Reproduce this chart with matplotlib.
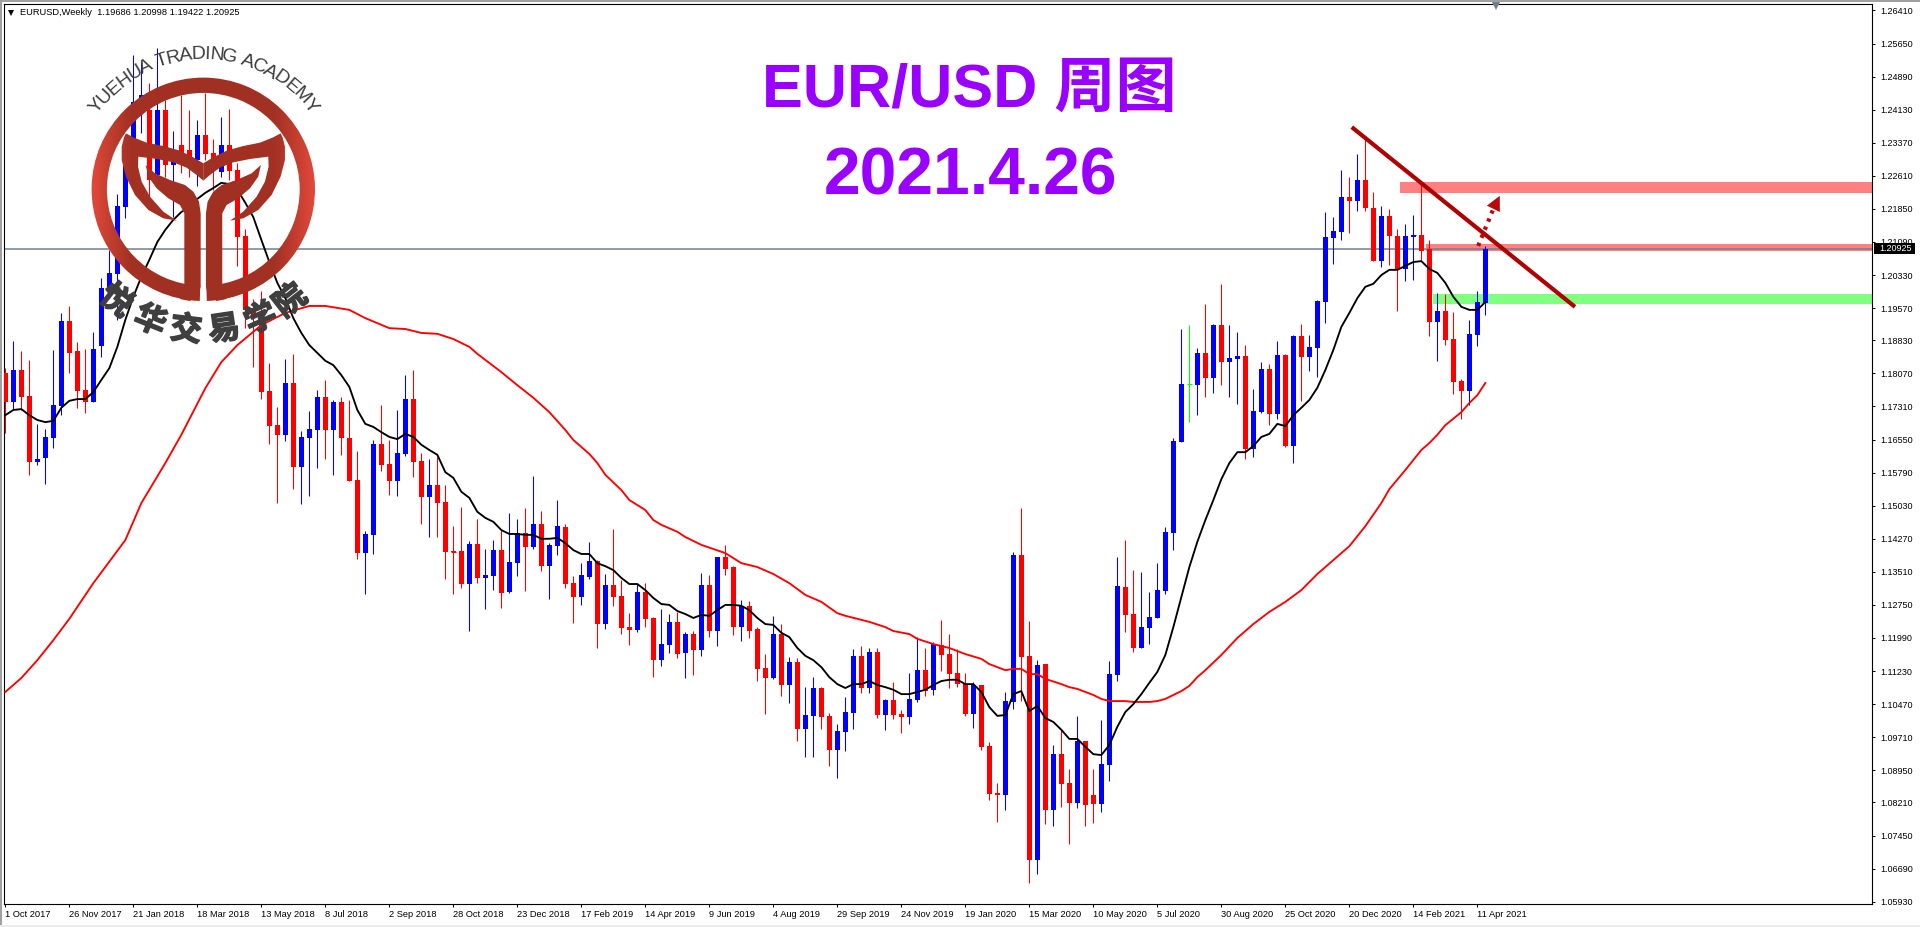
import numpy as np
import matplotlib
matplotlib.use('Agg')
import matplotlib.pyplot as plt
import matplotlib.patheffects as pe
from matplotlib.colors import LinearSegmentedColormap
from matplotlib.patches import Polygon, Rectangle, Wedge

plt.rcParams['font.family'] = ['Liberation Sans', 'Noto Sans CJK SC', 'DejaVu Sans']

opens = [1.1808, 1.1741, 1.1815, 1.1755, 1.1603, 1.1613, 1.1659, 1.1732, 1.1927, 1.1858,
         1.1769, 1.1741, 1.1870, 1.1996, 1.2035, 1.2189, 1.2286, 1.2412, 1.2412, 1.2263,
         1.2412, 1.2286, 1.2332, 1.2320, 1.2297, 1.2355, 1.2314, 1.2270, 1.2332, 1.2274,
         1.2123, 1.1953, 1.1941, 1.1767, 1.1688, 1.1666, 1.1785, 1.1592, 1.1659, 1.1677,
         1.1753, 1.1677, 1.1741, 1.1659, 1.1562, 1.1394, 1.1436, 1.1645, 1.1599, 1.1560,
         1.1622, 1.1748, 1.1606, 1.1523, 1.1551, 1.1512, 1.1399, 1.1399, 1.1323, 1.1415,
         1.1337, 1.1342, 1.1401, 1.1305, 1.1371, 1.1440, 1.1408, 1.1461, 1.1364, 1.1410,
         1.1454, 1.1325, 1.1293, 1.1339, 1.1376, 1.1231, 1.1321, 1.1296, 1.1224, 1.1217,
         1.1305, 1.1245, 1.1148, 1.1183, 1.1236, 1.1165, 1.1208, 1.1171, 1.1321, 1.1215,
         1.1385, 1.1362, 1.1224, 1.1273, 1.1220, 1.1130, 1.1107, 1.1208, 1.1091, 1.1144,
         1.0990, 1.1020, 1.1084, 1.1020, 1.0942, 1.0983, 1.1027, 1.1158, 1.1084, 1.1167,
         1.1022, 1.1057, 1.1024, 1.1017, 1.1057, 1.1125, 1.1080, 1.1183, 1.1162, 1.1119,
         1.1093, 1.1024, 1.1091, 1.0951, 1.0843, 1.0838, 1.1052, 1.1390, 1.1158, 1.0689,
         1.1139, 1.0804, 1.0932, 1.0866, 1.0820, 1.0962, 1.0838, 1.0818, 1.0907, 1.1114,
         1.1316, 1.1254, 1.1176, 1.1222, 1.1245, 1.1307, 1.1440, 1.1649, 1.1783, 1.1780,
         1.1854, 1.1797, 1.1918, 1.1833, 1.1840, 1.1847, 1.1633, 1.1718, 1.1817, 1.1714,
         1.1849, 1.1640, 1.1893, 1.1845, 1.1865, 1.1971, 1.2118, 1.2132, 1.2212, 1.2203,
         1.2252, 1.2187, 1.2065, 1.2169, 1.2123, 1.2047, 1.2121, 1.2125, 1.2093, 1.1925,
         1.1950, 1.1886, 1.1790, 1.1767, 1.1895, 1.19686]
highs = [1.1819, 1.1882, 1.1858, 1.1838, 1.1691, 1.1679, 1.1861, 1.1946, 1.1962, 1.1879,
         1.1863, 1.1902, 1.2026, 1.2091, 1.2219, 1.2309, 1.2539, 1.2523, 1.2474, 1.2555,
         1.2435, 1.2364, 1.2447, 1.2412, 1.2389, 1.2451, 1.2346, 1.2396, 1.2415, 1.2291,
         1.2139, 1.1978, 1.1996, 1.1831, 1.1730, 1.1840, 1.1852, 1.1675, 1.1721, 1.1769,
         1.1792, 1.1746, 1.1753, 1.1746, 1.1629, 1.1445, 1.1654, 1.1734, 1.1654, 1.1723,
         1.1803, 1.1815, 1.1624, 1.1610, 1.1615, 1.1551, 1.1456, 1.1500, 1.1422, 1.1472,
         1.1404, 1.1424, 1.1447, 1.1486, 1.1472, 1.1498, 1.1571, 1.1491, 1.1417, 1.1516,
         1.1461, 1.1342, 1.1371, 1.1420, 1.1378, 1.1346, 1.1450, 1.1332, 1.1256, 1.1323,
         1.1325, 1.1247, 1.1266, 1.1254, 1.1259, 1.1213, 1.1215, 1.1348, 1.1344, 1.1385,
         1.1413, 1.1364, 1.1286, 1.1284, 1.1224, 1.1162, 1.1250, 1.1231, 1.1155, 1.1153,
         1.1086, 1.1109, 1.1086, 1.1027, 1.1001, 1.1063, 1.1174, 1.1181, 1.1176, 1.1176,
         1.1059, 1.1098, 1.1034, 1.1119, 1.1201, 1.1176, 1.1190, 1.1240, 1.1208, 1.1174,
         1.1119, 1.1098, 1.1091, 1.0960, 1.0866, 1.1075, 1.1397, 1.1498, 1.1238, 1.1148,
         1.1139, 1.0953, 1.0988, 1.0898, 1.1020, 1.0962, 1.0898, 1.1011, 1.1146, 1.1385,
         1.1424, 1.1355, 1.1351, 1.1305, 1.1371, 1.1454, 1.1659, 1.1909, 1.1918, 1.1865,
         1.1967, 1.1921, 1.2013, 1.1918, 1.1902, 1.1872, 1.1771, 1.1833, 1.1829, 1.1882,
         1.1852, 1.1895, 1.1921, 1.1895, 1.1976, 1.2178, 1.2166, 1.2274, 1.2258, 1.2311,
         1.2348, 1.2224, 1.2192, 1.2185, 1.2139, 1.2150, 1.2171, 1.2245, 1.2114, 1.1992,
         1.1990, 1.1948, 1.1794, 1.1930, 1.1996, 1.20998]
lows = [1.1670, 1.1723, 1.1723, 1.1574, 1.1597, 1.1553, 1.1636, 1.1711, 1.1808, 1.1728,
        1.1716, 1.1741, 1.1845, 1.1992, 1.1930, 1.2164, 1.2263, 1.2360, 1.2205, 1.2258,
        1.2258, 1.2166, 1.2268, 1.2258, 1.2238, 1.2297, 1.2229, 1.2258, 1.2252, 1.2054,
        1.1911, 1.1822, 1.1748, 1.1645, 1.1509, 1.1652, 1.1541, 1.1507, 1.1525, 1.1590,
        1.1610, 1.1574, 1.1620, 1.1560, 1.1381, 1.1300, 1.1392, 1.1583, 1.1528, 1.1525,
        1.1617, 1.1569, 1.1461, 1.1431, 1.1431, 1.1335, 1.1300, 1.1314, 1.1215, 1.1325,
        1.1266, 1.1309, 1.1268, 1.1302, 1.1342, 1.1307, 1.1404, 1.1353, 1.1289, 1.1390,
        1.1314, 1.1233, 1.1275, 1.1335, 1.1176, 1.1220, 1.1273, 1.1208, 1.1183, 1.1213,
        1.1224, 1.1109, 1.1135, 1.1165, 1.1153, 1.1107, 1.1114, 1.1158, 1.1201, 1.1181,
        1.1344, 1.1206, 1.1192, 1.1199, 1.1100, 1.1024, 1.1105, 1.1066, 1.1050, 1.0962,
        1.0926, 1.0926, 1.0990, 1.0905, 1.0877, 1.0939, 1.0990, 1.1073, 1.1073, 1.1015,
        1.0988, 1.1013, 1.0981, 1.1001, 1.1052, 1.1066, 1.1068, 1.1123, 1.1084, 1.1086,
        1.1020, 1.0992, 1.0942, 1.0827, 1.0776, 1.0804, 1.1036, 1.1054, 1.0636, 1.0657,
        1.0772, 1.0767, 1.0811, 1.0726, 1.0808, 1.0767, 1.0774, 1.0799, 1.0870, 1.1100,
        1.1213, 1.1167, 1.1176, 1.1185, 1.1245, 1.1300, 1.1401, 1.1649, 1.1695, 1.1711,
        1.1753, 1.1762, 1.1780, 1.1753, 1.1737, 1.1610, 1.1615, 1.1716, 1.1688, 1.1702,
        1.1638, 1.1601, 1.1744, 1.1813, 1.1799, 1.1923, 1.2058, 1.2114, 1.2130, 1.2180,
        1.2180, 1.2065, 1.2052, 1.2056, 1.1950, 1.2019, 1.2022, 1.2068, 1.1893, 1.1836,
        1.1872, 1.1760, 1.1702, 1.1734, 1.1870, 1.19422]
closes = [1.1741, 1.1815, 1.1753, 1.1603, 1.1610, 1.1661, 1.1734, 1.1927, 1.1854, 1.1767,
          1.1741, 1.1863, 1.2003, 1.2038, 1.2192, 1.2284, 1.2431, 1.2447, 1.2252, 1.2412,
          1.2286, 1.2297, 1.2297, 1.2297, 1.2355, 1.2311, 1.2286, 1.2332, 1.2272, 1.2121,
          1.1953, 1.1934, 1.1764, 1.1686, 1.1666, 1.1785, 1.1592, 1.1661, 1.1679, 1.1753,
          1.1677, 1.1741, 1.1659, 1.1560, 1.1394, 1.1438, 1.1645, 1.1597, 1.1560, 1.1624,
          1.1748, 1.1603, 1.1523, 1.1551, 1.1509, 1.1397, 1.1397, 1.1323, 1.1415, 1.1337,
          1.1344, 1.1401, 1.1302, 1.1374, 1.1440, 1.1408, 1.1461, 1.1364, 1.1413, 1.1456,
          1.1323, 1.1293, 1.1344, 1.1376, 1.1231, 1.1321, 1.1293, 1.1222, 1.1217, 1.1305,
          1.1243, 1.1148, 1.1185, 1.1236, 1.1162, 1.1208, 1.1171, 1.1321, 1.1215, 1.1385,
          1.1358, 1.1224, 1.1273, 1.1215, 1.1128, 1.1107, 1.1208, 1.1091, 1.1144, 1.0990,
          1.1022, 1.1084, 1.1017, 1.0942, 1.0985, 1.1029, 1.1158, 1.1084, 1.1167, 1.1022,
          1.1057, 1.1022, 1.1017, 1.1059, 1.1125, 1.1077, 1.1185, 1.1160, 1.1116, 1.1093,
          1.1024, 1.1091, 1.0949, 1.0841, 1.0838, 1.1054, 1.1390, 1.1155, 1.0689, 1.1137,
          1.0804, 1.0932, 1.0864, 1.0820, 1.0962, 1.0815, 1.0818, 1.0909, 1.1116, 1.1319,
          1.1252, 1.1176, 1.1224, 1.1247, 1.1309, 1.1443, 1.1652, 1.1783, 1.1783, 1.1854,
          1.1797, 1.1918, 1.1833, 1.1842, 1.1847, 1.1633, 1.1721, 1.1817, 1.1714, 1.1849,
          1.1640, 1.1893, 1.1845, 1.1868, 1.1973, 1.2121, 1.2134, 1.2212, 1.2203, 1.2252,
          1.2187, 1.2065, 1.2169, 1.2123, 1.2047, 1.2123, 1.2125, 1.2088, 1.1925, 1.1950,
          1.1884, 1.1787, 1.1767, 1.1898, 1.1971, 1.20925]

# short moving average, one value per week
ma_short = [1.1711, 1.1723, 1.1725, 1.1711, 1.1700, 1.1695, 1.1698, 1.1728, 1.1744, 1.1748,
            1.1748, 1.1764, 1.1792, 1.1819, 1.1868, 1.1930, 1.1983, 1.2029, 1.2068, 1.2109,
            1.2137, 1.2160, 1.2178, 1.2189, 1.2208, 1.2222, 1.2233, 1.2245, 1.2242, 1.2229,
            1.2199, 1.2166, 1.2114, 1.2063, 1.2015, 1.1980, 1.1934, 1.1900, 1.1872, 1.1854,
            1.1836, 1.1826, 1.1803, 1.1776, 1.1723, 1.1691, 1.1684, 1.1672, 1.1661, 1.1656,
            1.1668, 1.1661, 1.1643, 1.1631, 1.1620, 1.1580, 1.1567, 1.1535, 1.1521, 1.1489,
            1.1475, 1.1466, 1.1447, 1.1438, 1.1438, 1.1436, 1.1436, 1.1427, 1.1427, 1.1429,
            1.1417, 1.1401, 1.1392, 1.1392, 1.1371, 1.1364, 1.1355, 1.1337, 1.1323, 1.1323,
            1.1309, 1.1291, 1.1277, 1.1275, 1.1261, 1.1254, 1.1245, 1.1252, 1.1250, 1.1263,
            1.1275, 1.1275, 1.1273, 1.1263, 1.1245, 1.1231, 1.1229, 1.1211, 1.1201, 1.1176,
            1.1158, 1.1148, 1.1132, 1.1109, 1.1093, 1.1084, 1.1093, 1.1093, 1.1100, 1.1091,
            1.1086, 1.1080, 1.1070, 1.1070, 1.1075, 1.1080, 1.1091, 1.1100, 1.1103, 1.1103,
            1.1093, 1.1093, 1.1075, 1.1040, 1.1020, 1.1022, 1.1070, 1.1077, 1.1031, 1.1043,
            1.1015, 1.1006, 1.0988, 1.0967, 1.0967, 1.0949, 1.0932, 1.0930, 1.0953, 1.0995,
            1.1029, 1.1047, 1.1070, 1.1096, 1.1121, 1.1160, 1.1224, 1.1293, 1.1362, 1.1420,
            1.1470, 1.1516, 1.1564, 1.1601, 1.1626, 1.1626, 1.1640, 1.1661, 1.1668, 1.1691,
            1.1686, 1.1711, 1.1728, 1.1746, 1.1774, 1.1815, 1.1861, 1.1914, 1.1946, 1.1980,
            1.2006, 1.2013, 1.2033, 1.2045, 1.2045, 1.2054, 1.2063, 1.2065, 1.2047, 1.2038,
            1.2015, 1.1983, 1.1960, 1.1953, 1.1953, 1.1971]

# long moving average, read at the weeks listed in ma_long_weeks
ma_long_weeks = [0, 2, 4, 6, 8, 11, 15, 17, 20, 22, 25, 27, 29, 32, 35, 38, 40, 43, 45, 48, 50, 52,
                 54, 56, 58, 59, 60, 62, 64, 66, 68, 70, 71, 73, 74, 75, 77, 78, 80, 81, 82, 84,
                 85, 87, 90, 92, 94, 96, 98, 100, 102, 104, 105, 108, 110, 111, 113, 114, 116,
                 118, 120, 122, 123, 124, 125, 126, 127, 128, 129, 130, 132, 133, 134, 135, 136,
                 137, 138, 140, 141, 143, 144, 145, 146, 147, 148, 149, 150, 152, 154, 156, 158,
                 160, 162, 164, 166, 168, 170, 172, 173, 175, 177, 178, 179, 180, 182, 183, 184, 185]
ma_long = [1.1075, 1.1107, 1.1148, 1.1194, 1.1243, 1.1325, 1.1424, 1.1509, 1.1601, 1.1666, 1.1773,
           1.1833, 1.1872, 1.1918, 1.1946, 1.1962, 1.1962, 1.1953, 1.1934, 1.1911, 1.1909, 1.1900,
           1.1898, 1.1886, 1.1868, 1.1852, 1.1838, 1.1810, 1.1780, 1.1751, 1.1718, 1.1677, 1.1654,
           1.1622, 1.1601, 1.1574, 1.1539, 1.1516, 1.1493, 1.1470, 1.1459, 1.1443, 1.1431, 1.1413,
           1.1394, 1.1371, 1.1362, 1.1346, 1.1325, 1.1298, 1.1282, 1.1256, 1.1250, 1.1236, 1.1224,
           1.1215, 1.1208, 1.1197, 1.1185, 1.1176, 1.1162, 1.1151, 1.1139, 1.1132, 1.1125, 1.1128,
           1.1128, 1.1116, 1.1116, 1.1105, 1.1093, 1.1086, 1.1082, 1.1075, 1.1068, 1.1059, 1.1054,
           1.1054, 1.1052, 1.1052, 1.1054, 1.1059, 1.1068, 1.1077, 1.1089, 1.1109, 1.1125, 1.1160,
           1.1199, 1.1231, 1.1259, 1.1282, 1.1309, 1.1346, 1.1378, 1.1410, 1.1456, 1.1509, 1.1541,
           1.1585, 1.1631, 1.1647, 1.1666, 1.1688, 1.1718, 1.1739, 1.1757, 1.1785]

price_labels = ['1.26410', '1.25650', '1.24890', '1.24130', '1.23370', '1.22610', '1.21850',
                '1.21090', '1.20330', '1.19570', '1.18830', '1.18070', '1.17310', '1.16550',
                '1.15790', '1.15030', '1.14270', '1.13510', '1.12750', '1.11990', '1.11230',
                '1.10470', '1.09710', '1.08950', '1.08210', '1.07450', '1.06690', '1.05930']
date_labels = ['1 Oct 2017', '26 Nov 2017', '21 Jan 2018', '18 Mar 2018', '13 May 2018', '8 Jul 2018',
               '2 Sep 2018', '28 Oct 2018', '23 Dec 2018', '17 Feb 2019', '14 Apr 2019', '9 Jun 2019',
               '4 Aug 2019', '29 Sep 2019', '24 Nov 2019', '19 Jan 2020', '15 Mar 2020', '10 May 2020',
               '5 Jul 2020', '30 Aug 2020', '25 Oct 2020', '20 Dec 2020', '14 Feb 2021', '11 Apr 2021']

last_price = 1.20925
# resistance and support bands: first week, lower price, upper price
band_weeks = [174.3, 177.6, 178.5]
band_lows = [1.2222, 1.2088, 1.1966]
band_highs = [1.2247, 1.2104, 1.1989]
band_colors = ['#ff8080', '#ff8080', '#80ff80']
trend_weeks = [168.3, 196.2]
trend_prices = [1.2373, 1.1960]
arrow_weeks = [184.1, 186.0, 186.8]
arrow_prices = [1.2100, 1.2185, 1.2215]

W, H = 1920, 927
fig = plt.figure(figsize=(W / 100, H / 100), dpi=100, facecolor='white')
ax = fig.add_axes([4 / W, (H - 904) / H, 1868 / W, 900 / H])

weeks = np.arange(len(opens))
o = np.array(opens)
h = np.array(highs)
l = np.array(lows)
c = np.array(closes)
colors = np.where(c > o, '#0000ff', np.where(c < o, '#ff0000', '#00ff00'))

xmax = 233.33
for start, lo, hi, col in zip(band_weeks, band_lows, band_highs, band_colors):
    ax.fill_between([start, xmax], lo, hi, color=col, lw=0, zorder=1)

ax.axhline(last_price, color='#708090', lw=1.1, zorder=1.5)
ax.vlines(weeks, l, h, colors=colors, lw=0.75, zorder=2)
ax.bar(weeks, np.abs(c - o), bottom=np.minimum(o, c), width=0.625, color=colors, lw=0, zorder=3)
thin = np.abs(c - o) < 0.0004
ax.hlines(c[thin], weeks[thin] - 0.31, weeks[thin] + 0.31, colors=colors[thin], lw=0.75, zorder=3)

ax.plot(ma_long_weeks, ma_long, color='#ff0000', lw=1.35, zorder=4)
ax.plot(weeks, ma_short, color='black', lw=1.35, zorder=4)

# trend line and the dotted arrow
ax.plot(trend_weeks, trend_prices, color='#b00000', lw=3, solid_capstyle='butt', zorder=5)
ax.plot(arrow_weeks[:2], arrow_prices[:2], color='#b80808', lw=3, ls=(0, (0.8, 1.3)), zorder=5)
ax.annotate('', xy=(arrow_weeks[2], arrow_prices[2]), xytext=(arrow_weeks[1], arrow_prices[1]),
            arrowprops=dict(arrowstyle='-|>', mutation_scale=26, color='#b80808', lw=0,
                            shrinkA=0, shrinkB=0), zorder=5)

ax.set_xlim(-0.166, xmax)
ax.set_ylim(1.05877, 1.26559)
ax.yaxis.tick_right()
ax.set_yticks([float(s) for s in price_labels])
ax.set_yticklabels(price_labels, fontsize=6.5)
ax.set_xticks(np.arange(len(date_labels)) * 8)
ax.set_xticklabels(date_labels, fontsize=6.7, ha='left')
ax.tick_params(axis='y', length=2.2, width=0.7, pad=3.5)
ax.tick_params(axis='x', length=2.2, width=0.7, pad=2)
for s in ax.spines.values():
    s.set_linewidth(0.8)

# overlay in pixel units for the window frame, titles and the logo
ov = fig.add_axes([0, 0, 1, 1], facecolor='none', zorder=5)
ov.axis('off')

ov.add_patch(Rectangle((0, 0), W, 1.5, color='#a0a0a0', lw=0))
ov.add_patch(Rectangle((0, 0), 2, H, color='#a0a0a0', lw=0))
ov.add_patch(Rectangle((0, 924.5), W, 3, color='#ececec', lw=0))

ov.plot([10.5], [12.8], marker='v', ms=5, color='black', mew=0)
ov.text(20, 12.5, 'EURUSD,Weekly  1.19686 1.20998 1.19422 1.20925', fontsize=6.7, va='center', ha='left')
ov.plot([1496], [5.5], marker='v', ms=6, color='#708090', mew=0)

ov.add_patch(Rectangle((1874, 243), 41, 11, color='black', lw=0, zorder=6))
ov.text(1879, 248.5, f'{last_price:.5f}', color='white', fontsize=6.5, va='center', ha='left', zorder=7)

ov.text(969, 91, 'EUR/USD 周图', color='#9900ff', fontsize=44, fontweight='bold', ha='center', va='center')
ov.text(970, 177, '2021.4.26', color='#9900ff', fontsize=47.5, fontweight='bold', ha='center', va='center')

# logo: ring, two wings and two stems, outlined in zoomed pixels
cx, cy = 203.3, 189.3
left_wing = [(378, 400), (400, 412), (440, 428), (490, 438), (540, 452), (580, 472), (610, 490), (610, 542),
             (590, 525), (560, 503), (520, 487), (470, 477), (415, 470), (414, 500), (425, 545), (450, 590),
             (490, 635), (530, 662), (490, 655), (445, 630), (405, 585), (378, 530), (365, 480), (365, 440),
             (372, 412)]
left_stem = [(437, 495), (465, 520), (510, 540), (555, 555), (580, 575), (597, 605), (602, 640), (602, 860),
             (595, 885), (570, 903), (540, 897), (553, 855), (553, 640), (540, 615), (505, 595), (470, 565),
             (445, 530)]
pieces = [Wedge((cx, cy), 111.7, 91.8, 448.2, width=15.3)]
for outline in (left_wing, left_stem):
    pts = np.array(outline, dtype=float) / 3
    pieces.append(Polygon(pts, closed=True))
    mirrored = pts.copy()
    mirrored[:, 0] = 2 * cx - pts[:, 0]
    pieces.append(Polygon(mirrored, closed=True))

cmap = LinearSegmentedColormap.from_list('logo', ['#a03022', '#a43224', '#e2493a'])
grad = np.abs(np.linspace(-1, 1, 256)).reshape(1, -1) ** 1.6
for patch in pieces:
    patch.set(facecolor='none', edgecolor='none')
    ov.add_patch(patch)
    im = ov.imshow(grad, cmap=cmap, aspect='auto', extent=[cx - 112, cx + 112, cy + 113, cy - 113], zorder=3)
    im.set_clip_path(patch)

name_en = 'YUEHUA TRADING ACADEMY'
widths = {'Y': .667, 'U': .722, 'E': .667, 'H': .722, 'A': .667, ' ': .278, 'T': .611, 'R': .722,
          'D': .722, 'I': .278, 'N': .722, 'G': .778, 'C': .722, 'M': .833}
adv = np.array([widths[ch] for ch in name_en])
mid = np.cumsum(adv) - adv / 2
angles = (mid / adv.sum() - 0.5) * 104 * adv.sum() / (adv.sum() - adv[0] / 2 - adv[-1] / 2)
for ch, ang in zip(name_en, angles):
    rad = np.radians(ang)
    ov.text(cx + 135 * np.sin(rad), cy - 135 * np.cos(rad), ch, color='#3c3c3c', fontsize=14,
            rotation=-ang, rotation_mode='anchor', ha='center', va='center', zorder=4)

name_cn = '悦华交易学院'
cn_angles = [-38, -22, -7, 8.5, 24, 38]
heavy = [pe.withStroke(linewidth=1.1, foreground='#3f3f3f')]
for ch, ang in zip(name_cn, cn_angles):
    rad = np.radians(ang)
    ov.text(cx + 143 * np.sin(rad), cy + 143 * np.cos(rad), ch, color='#3f3f3f', fontsize=23,
            fontweight='bold', rotation=ang, rotation_mode='anchor', ha='center', va='center', zorder=4,
            path_effects=heavy)

ov.set_xlim(0, W)
ov.set_ylim(H, 0)

fig.savefig('out.png', dpi=100)
